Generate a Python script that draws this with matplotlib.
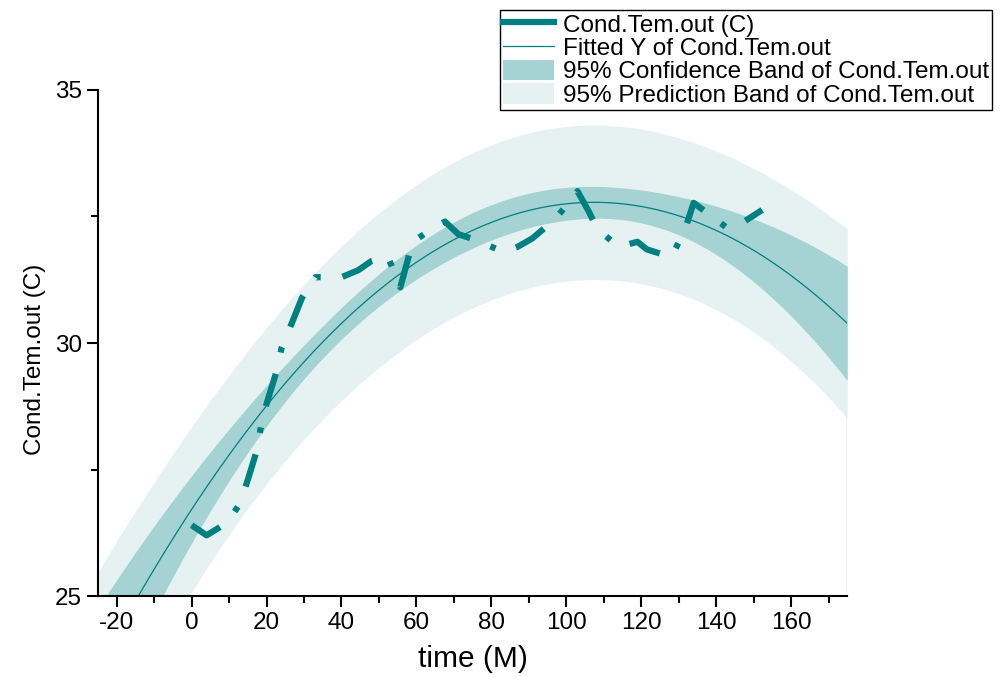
import numpy as np
import matplotlib.pyplot as plt
from matplotlib.lines import Line2D
from matplotlib.patches import Patch

# Cond.Tem.out readings (time in months, temp in C)
time_m = [0, 4, 9.5, 13, 15, 17.5, 18.5, 20, 22.5, 24, 26.5, 29.5, 33,
          40.0, 44.5, 48, 52.3, 55.7, 59, 63.7, 67.6, 71.2, 76.5, 83.1,
          87, 91, 97, 101, 103, 106, 108.3, 114, 119, 121.5, 128, 131.5,
          134, 137.6, 143, 147.5, 152.3]
cond_tem = [26.4, 26.2, 26.45, 26.84, 27.3, 27.9, 28.35, 28.8, 29.4, 29.9,
            30.35, 30.9, 31.3, 31.3, 31.44, 31.62, 31.72, 31.1, 32.0, 32.23,
            32.4, 32.15, 32.02, 31.8, 31.9, 32.07, 32.45, 32.8, 33.0, 32.6,
            32.25, 31.9, 32.0, 31.85, 31.7, 32.2, 32.77, 32.57, 32.27, 32.4,
            32.63]

# fitted quadratic: y = peak_y + curv * (x - peak_x)^2
fit_peak_x = 107.5
fit_peak_y = 32.78
fit_curv = -5.25e-4

x_range = (-25, 175)
T_975 = 2.02  # student t, ~40 dof

teal = "#008080"
conf_col = "#A5D2D2"
pred_col = "#E6F2F2"

plt.rcParams["font.family"] = ["Liberation Sans", "DejaVu Sans"]
plt.rcParams["axes.unicode_minus"] = False


def fitted(t):
    return fit_peak_y + fit_curv * (t - fit_peak_x) ** 2


# bands: residual spread around the fit + leverage of the readings
# (readings are unevenly spaced, so each one is weighted by the time span it covers)
x = np.array(time_m)
y = np.array(cond_tem)
w = np.gradient(x)
w = w / w.mean()
X = np.column_stack([np.ones_like(x), x, x**2])
XtWX_inv = np.linalg.inv(X.T @ np.diag(w) @ X)
n, p = X.shape
s2 = np.sum(w * (y - fitted(x)) ** 2) / (n - p)

xf = np.linspace(x_range[0], x_range[1], 400)
Xf = np.column_stack([np.ones_like(xf), xf, xf**2])
yf = fitted(xf)
lev = np.einsum("ij,jk,ik->i", Xf, XtWX_inv, Xf)
conf = T_975 * np.sqrt(s2 * lev)
pred = T_975 * np.sqrt(s2 * (1 + lev))

fig = plt.figure(figsize=(10.03, 6.77), dpi=100)
ax = fig.add_axes([0.0977, 0.1196, 0.747, 0.7475])

ax.fill_between(xf, yf - pred, yf + pred, color=pred_col, lw=0)
ax.fill_between(xf, yf - conf, yf + conf, color=conf_col, lw=0)
ax.plot([xf[-1], xf[-1]], [24, yf[-1] - pred[-1]], color=conf_col, lw=1)
ax.plot(xf, yf, color=teal, lw=0.9)
ax.plot(x, y, color=teal, lw=4.5, linestyle=(0, (5.4, 3.5, 0.9, 3.5)),
        dash_capstyle="butt", solid_joinstyle="miter")

ax.set_xlim(*x_range)
ax.set_ylim(25, 35)
ax.set_xticks(np.arange(-20, 161, 20))
ax.set_xticks(np.arange(-10, 171, 20), minor=True)
ax.set_yticks([25, 30, 35])
ax.set_yticks([27.5, 32.5], minor=True)
ax.tick_params(which="major", direction="out", length=8, width=1.5, labelsize=17.5)
ax.tick_params(which="minor", direction="out", length=5, width=1.5)
for side in ["top", "right"]:
    ax.spines[side].set_visible(False)
for side in ["left", "bottom"]:
    ax.spines[side].set_linewidth(1.5)

ax.set_xlabel("time (M)", fontsize=21.5, labelpad=8)
ax.set_ylabel("Cond.Tem.out (C)", fontsize=17.5)
ax.yaxis.set_label_coords(-0.07, 0.468)

handles = [
    Line2D([], [], color=teal, lw=4.5),
    Line2D([], [], color=teal, lw=0.9),
    Patch(facecolor=conf_col, edgecolor="none"),
    Patch(facecolor=pred_col, edgecolor="none"),
]
labels = ["Cond.Tem.out (C)", "Fitted Y of Cond.Tem.out",
          "95% Confidence Band of Cond.Tem.out",
          "95% Prediction Band of Cond.Tem.out"]
leg = fig.legend(handles, labels, loc="upper right", bbox_to_anchor=(0.989, 0.985),
                 fontsize=17.5, frameon=True, fancybox=False, framealpha=1,
                 edgecolor="black", handlelength=2.1, handleheight=0.9,
                 labelspacing=0.0, borderpad=0.12, handletextpad=0.35,
                 borderaxespad=0)
leg.get_frame().set_linewidth(1.0)

fig.savefig("out.png", dpi=100)
